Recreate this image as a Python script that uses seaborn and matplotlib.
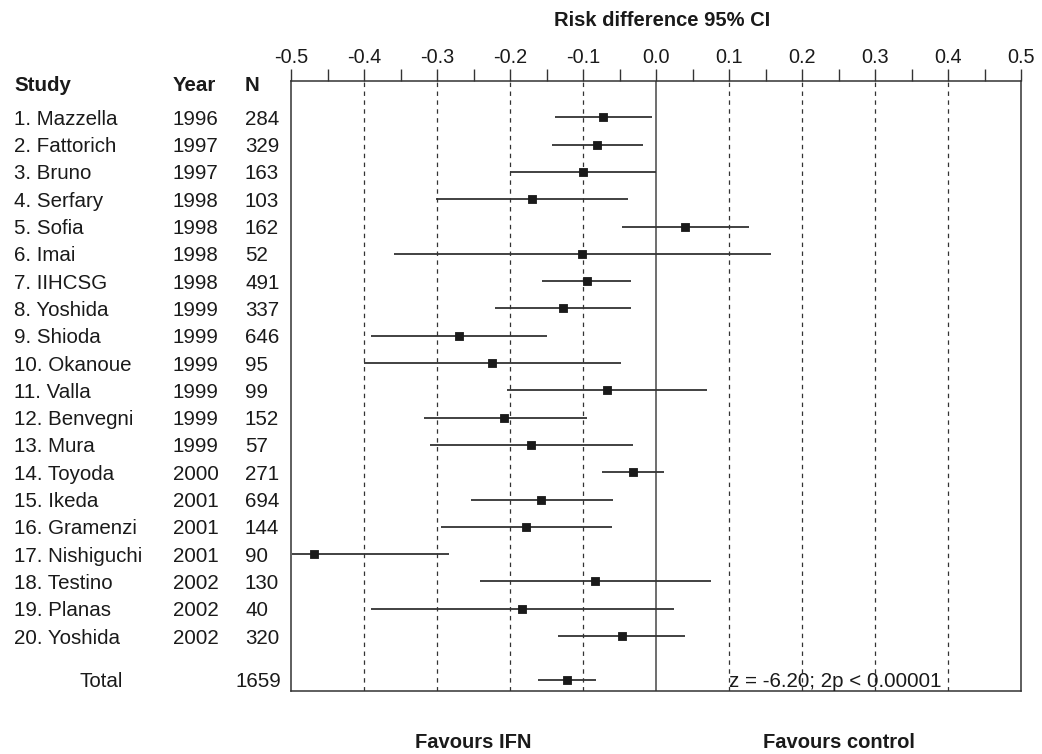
import matplotlib
import numpy as np
import pandas as pd

matplotlib.use("Agg")
import matplotlib.pyplot as plt
import matplotlib.transforms as mtransforms
import seaborn as sns

studies = ["1. Mazzella", "2. Fattorich", "3. Bruno", "4. Serfary", "5. Sofia",
           "6. Imai", "7. IIHCSG", "8. Yoshida", "9. Shioda", "10. Okanoue",
           "11. Valla", "12. Benvegni", "13. Mura", "14. Toyoda", "15. Ikeda",
           "16. Gramenzi", "17. Nishiguchi", "18. Testino", "19. Planas",
           "20. Yoshida"]
years = [1996, 1997, 1997, 1998, 1998, 1998, 1998, 1999, 1999, 1999,
         1999, 1999, 1999, 2000, 2001, 2001, 2001, 2002, 2002, 2002]
n_patients = [284, 329, 163, 103, 162, 52, 491, 337, 646, 95,
              99, 152, 57, 271, 694, 144, 90, 130, 40, 320]
rd_est = [-0.072, -0.081, -0.100, -0.170, 0.040, -0.101, -0.095, -0.128,
          -0.270, -0.224, -0.067, -0.208, -0.171, -0.031, -0.157, -0.178,
          -0.468, -0.084, -0.184, -0.047]
rd_low = [-0.138, -0.143, -0.200, -0.301, -0.046, -0.359, -0.156, -0.221,
          -0.391, -0.400, -0.204, -0.318, -0.310, -0.074, -0.253, -0.295,
          -0.498, -0.241, -0.391, -0.134]
rd_high = [-0.006, -0.018, 0.000, -0.039, 0.127, 0.157, -0.034, -0.034,
           -0.149, -0.048, 0.070, -0.095, -0.032, 0.011, -0.059, -0.060,
           -0.284, 0.075, 0.024, 0.040]
total_n = 1659
total_est, total_low, total_high = -0.122, -0.162, -0.082
xticks = [-0.5, -0.4, -0.3, -0.2, -0.1, 0.0, 0.1, 0.2, 0.3, 0.4, 0.5]
stat_text = "z = -6.20; 2p < 0.00001"

sns.set_theme(style="white")
plt.rcParams["font.family"] = ["Liberation Sans", "DejaVu Sans"]
plt.rcParams["lines.scale_dashes"] = False

ink = "#1a1a1a"
line_col = "#333333"
fs = 14.8
total_row = 20.6

df = pd.DataFrame({
    "row": list(range(len(studies))) + [total_row],
    "est": rd_est + [total_est],
    "low": rd_low + [total_low],
    "high": rd_high + [total_high],
})

fig = plt.figure(figsize=(10.42, 7.54), dpi=100)
ax = fig.add_axes([291 / 1042, 1 - 690.7 / 754, 730 / 1042, 610 / 754])

for t in xticks[1:-1]:
    if t == 0.0:
        ax.axvline(t, color="#555555", lw=1.2, zorder=1)
    else:
        ax.axvline(t, color=line_col, lw=0.9, dashes=(3.2, 3.2), zorder=1)

ax.hlines(df["row"], df["low"], df["high"], color=line_col, lw=1.3, zorder=2)
sns.scatterplot(data=df, x="est", y="row", marker="s", s=30, color=ink,
                edgecolor=ink, linewidth=0.6, zorder=3, ax=ax, legend=False)

ax.set_xlim(-0.5, 0.5)
ax.set_ylim(21.0, -1.34)
ax.set_xticks(xticks)
ax.set_xticklabels([f"{t:.1f}" for t in xticks])
ax.set_xticks(np.array(xticks[:-1]) + 0.05, minor=True)
ax.set_yticks([])
ax.set_xlabel("")
ax.set_ylabel("")
ax.xaxis.set_ticks_position("top")
ax.tick_params(axis="x", which="both", top=True, bottom=False, labeltop=True,
               labelbottom=False, direction="out", length=8.6, width=1.0,
               color=line_col, pad=1, labelsize=14.3, labelcolor=ink)
for sp in ax.spines.values():
    sp.set_color(line_col)
    sp.set_linewidth(1.1)

ax.text(0.1, total_row, stat_text, ha="left", va="center_baseline",
        fontsize=fs, color=ink)

# left-hand table
tr = mtransforms.blended_transform_factory(fig.transFigure, ax.transData)
header_y = -1.25
for x, lab in [(14, "Study"), (172.5, "Year"), (245, "N")]:
    ax.text(x / 1042, header_y, lab, transform=tr, ha="left",
            va="center_baseline", fontsize=fs, fontweight="bold", color=ink)
for i, (name, yr, n) in enumerate(zip(studies, years, n_patients)):
    ax.text(14 / 1042, i, name, transform=tr, ha="left",
            va="center_baseline", fontsize=fs, color=ink)
    ax.text(172.5 / 1042, i, str(yr), transform=tr, ha="left",
            va="center_baseline", fontsize=fs, color=ink)
    ax.text(245 / 1042, i, str(n), transform=tr, ha="left",
            va="center_baseline", fontsize=fs, color=ink)
ax.text(80 / 1042, total_row, "Total", transform=tr, ha="left",
        va="center_baseline", fontsize=fs, color=ink)
ax.text(281 / 1042, total_row, str(total_n), transform=tr, ha="right",
        va="center_baseline", fontsize=fs, color=ink)

fig.text(662 / 1042, 1 - 20 / 754, "Risk difference 95% CI", ha="center",
         va="center", fontsize=14.5, fontweight="bold", color=ink)

trb = mtransforms.blended_transform_factory(ax.transData, fig.transFigure)
ax.text(-0.25, 1 - 743 / 754, "Favours IFN", transform=trb, ha="center",
        va="center", fontsize=14.5, fontweight="bold", color=ink)
ax.text(0.25, 1 - 743 / 754, "Favours control", transform=trb, ha="center",
        va="center", fontsize=14.5, fontweight="bold", color=ink)

fig.savefig("out.png", dpi=100)
